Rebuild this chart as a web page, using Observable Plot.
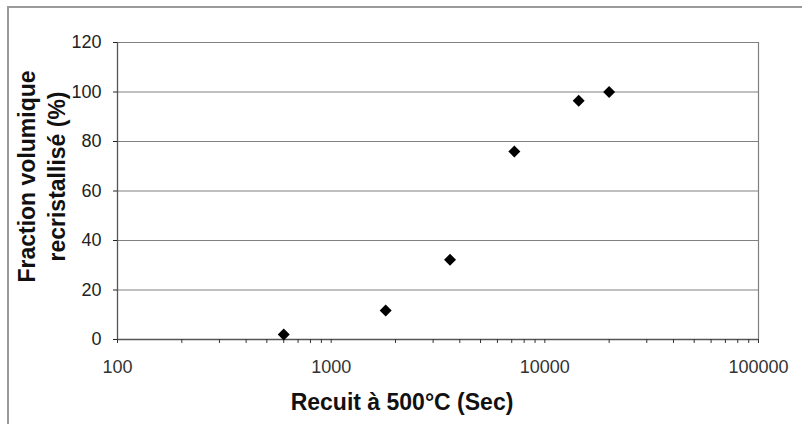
<!DOCTYPE html>
<html>
<head>
<meta charset="utf-8">
<script src="https://cdn.jsdelivr.net/npm/d3@7"></script>
<script src="https://cdn.jsdelivr.net/npm/@observablehq/plot@0.6"></script>
<style>
  html, body { margin: 0; padding: 0; background: #fff; }
  #wrap { position: relative; width: 802px; height: 424px; }
  #frame { position: absolute; left: 7px; top: 6px; width: 795px; height: 418px;
           border-left: 2px solid #9a9a9a; border-top: 2px solid #9a9a9a; box-sizing: border-box; pointer-events: none; }
</style>
</head>
<body>
<div id="wrap"><div id="frame"></div></div>
<script>
// Data
const annealTimes = [600, 1800, 3600, 7200, 14400, 20000];   // Recuit à 500°C (s)
const recrystFraction = [2, 11.7, 32.2, 76, 96.5, 100];      // Fraction volumique recristallisée (%)

const yTicks = [0, 20, 40, 60, 80, 100, 120];
const xDecades = [100, 1000, 10000, 100000];
const xMinorTicks = [];
for (const d of [100, 1000, 10000]) for (let k = 1; k <= 9; k++) xMinorTicks.push(d * k);
xMinorTicks.push(100000);

const xTitle = "Recuit à 500°C (Sec)";
const yTitle = "Fraction volumique\nrecristallisé (%)";

const points = annealTimes.map((t, i) => ({t, f: recrystFraction[i]}));

const font = "'Liberation Sans', Arial, sans-serif";

const chart = Plot.plot({
  width: 802,
  height: 424,
  marginLeft: 117,
  marginRight: 44,
  marginTop: 42,
  marginBottom: 85,
  style: {fontFamily: font, fontSize: "18px", background: "transparent", color: "#111"},
  x: {type: "log", domain: [100, 100000]},
  y: {domain: [0, 120]},
  marks: [
    Plot.ruleY(yTicks, {stroke: "#808080", strokeWidth: 1.2}),
    Plot.ruleX([100000], {stroke: "#808080", strokeWidth: 1.2}),
    Plot.ruleX([100], {stroke: "#555", strokeWidth: 1.3}),
    Plot.ruleY([0], {stroke: "#555", strokeWidth: 1.3}),
    Plot.axisY({ticks: yTicks, tickSize: 4, tickPadding: 12, fontSize: 18, label: null, color: "#222"}),
    Plot.axisX({ticks: xMinorTicks, tickSize: 4, tickPadding: 17, fontSize: 18, label: null, color: "#333",
      tickFormat: d => xDecades.includes(d) ? String(d) : ""}),
    Plot.dot(points, {x: "t", y: "f", symbol: "diamond2", r: 5.4, fill: "#000", stroke: "none"}),
    Plot.text([xTitle], {frameAnchor: "bottom", dx: -36, dy: 63, lineAnchor: "middle", textAnchor: "middle",
      fontSize: 23, fontWeight: "bold", fill: "#111"}),
    Plot.text([yTitle], {frameAnchor: "left", rotate: -90, dx: -77, dy: -14.5, lineAnchor: "middle", textAnchor: "middle",
      lineHeight: 1.3, fontSize: 23, fontWeight: "bold", fill: "#111"})
  ]
});
document.getElementById("wrap").insertBefore(chart, document.getElementById("frame"));
</script>
</body>
</html>
